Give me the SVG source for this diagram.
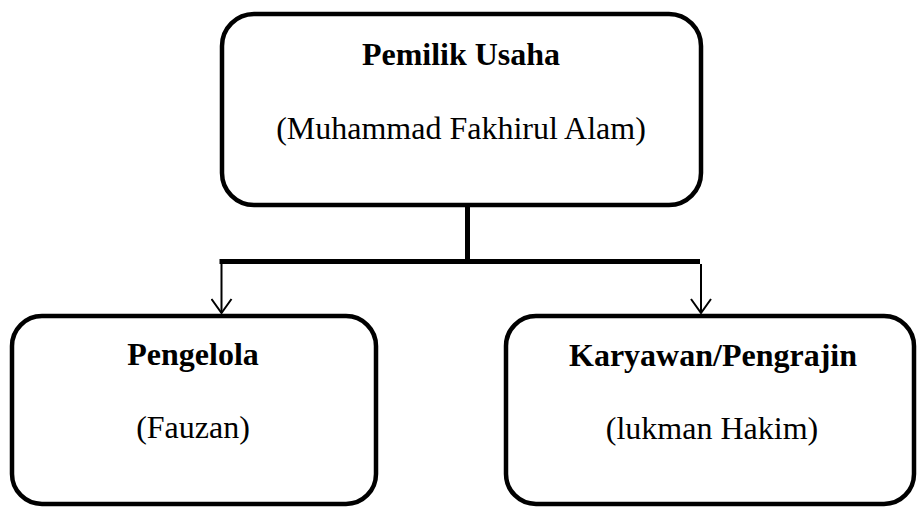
<svg xmlns="http://www.w3.org/2000/svg" width="918" height="507" viewBox="0 0 918 507">
<defs>
<marker id="arr" viewBox="0 0 16 22" refX="15" refY="11" markerWidth="16" markerHeight="22" markerUnits="userSpaceOnUse" orient="auto">
<path d="M1,1 L15,11 L1,21" fill="none" stroke="#000" stroke-width="2"/>
</marker>
<style>
.box{fill:#fff;stroke:#000;stroke-width:4.5}
.t{font-family:"Liberation Serif","Times New Roman","DejaVu Serif",serif;font-size:32px;text-anchor:middle;fill:#000}
.b{font-weight:bold}
.thick{stroke:#000;stroke-width:5;fill:none}
.thin{stroke:#000;stroke-width:2;fill:none}
</style>
</defs>
<rect width="918" height="507" fill="#fff"/>
<g id="connectors">
<line class="thick" x1="467.5" y1="205" x2="467.5" y2="262"/>
<line class="thick" x1="219.5" y1="261.5" x2="700" y2="261.5"/>
<line class="thin" x1="221.5" y1="264" x2="221.5" y2="313" marker-end="url(#arr)"/>
<line class="thin" x1="701" y1="264" x2="701" y2="313" marker-end="url(#arr)"/>
</g>
<g id="pemilik">
<rect class="box" x="222" y="14" width="479" height="191" rx="32"/>
<text class="t b" x="461" y="65">Pemilik Usaha</text>
<text class="t" x="461" y="139">(Muhammad Fakhirul Alam)</text>
</g>
<g id="pengelola">
<rect class="box" x="12" y="316" width="364" height="188" rx="30"/>
<text class="t b" x="193" y="365">Pengelola</text>
<text class="t" x="193" y="438">(Fauzan)</text>
</g>
<g id="karyawan">
<rect class="box" x="506" y="316" width="408" height="188" rx="30"/>
<text class="t b" x="713" y="366">Karyawan/Pengrajin</text>
<text class="t" x="712" y="439">(lukman Hakim)</text>
</g>
</svg>
